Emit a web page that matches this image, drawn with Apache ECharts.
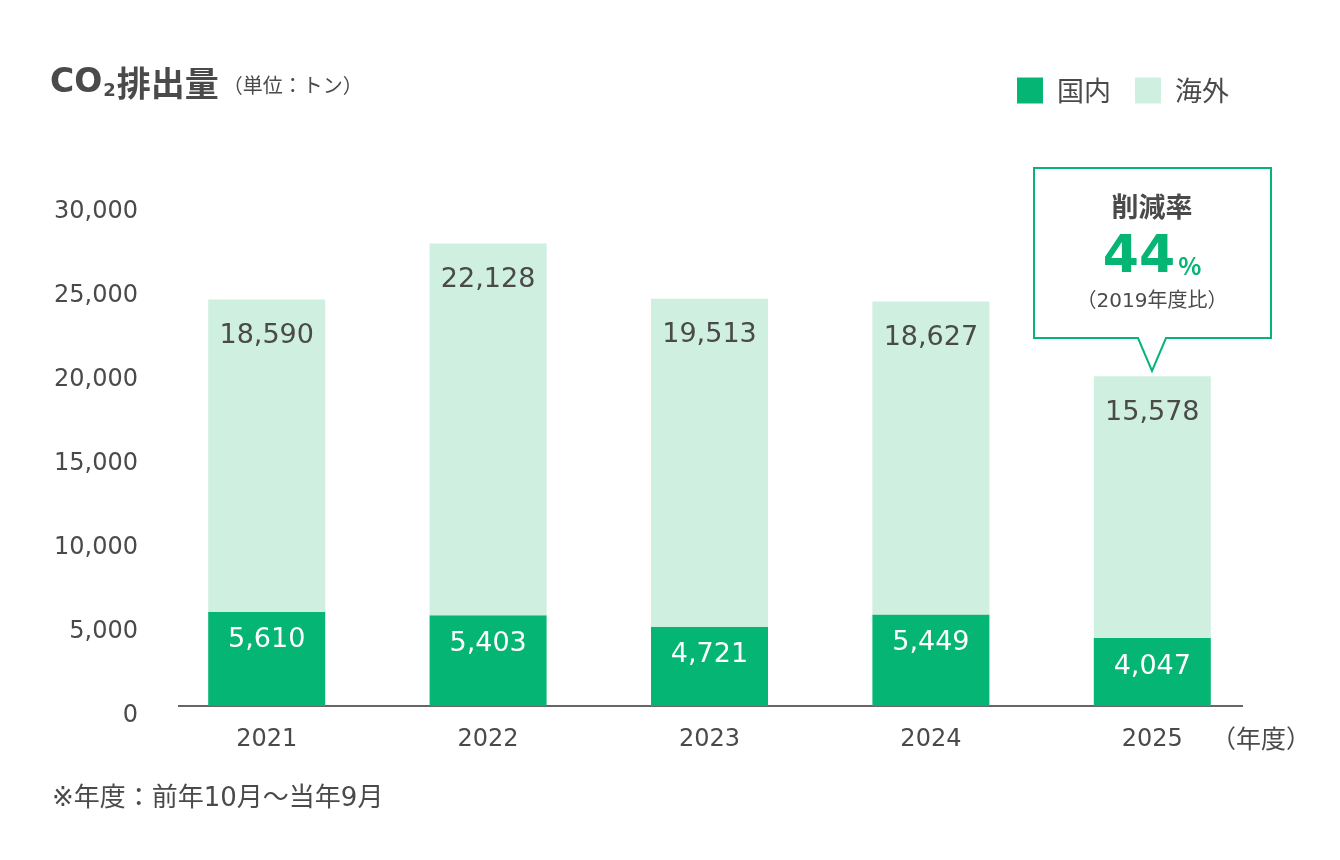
<!DOCTYPE html>
<html lang="ja">
<head>
<meta charset="UTF-8">
<title>CO2排出量</title>
<script src="https://cdn.jsdelivr.net/npm/echarts@6/dist/echarts.min.js"></script>
<style>
  html, body { margin: 0; padding: 0; background: #fff; }
  #chart { width: 1340px; height: 860px; }
</style>
</head>
<body>
<div id="chart"></div>
<script>
// data
const years = ['2021', '2022', '2023', '2024', '2025'];
const domestic = [5610, 5403, 4721, 5449, 4047];
const overseas = [18590, 22128, 19513, 18627, 15578];
const seriesNames = ['国内', '海外'];

// digits come from DejaVu (wide, like the original), kana/kanji fall back to Noto CJK
const FONT = '"DejaVu Sans", "Noto Sans CJK JP", sans-serif';
const FONT_JP = '"Noto Sans CJK JP", sans-serif';
const GREEN = '#04b573';
const LIGHT = '#cfefe1';
const TEXT = '#4a4a4a';

const chart = echarts.init(document.getElementById('chart'));

const fmt = p => p.value.toLocaleString('en-US');

chart.setOption({
  animation: false,
  textStyle: { fontFamily: FONT },
  grid: { left: 156, right: 77, top: 202, bottom: 154 },
  legend: {
    right: 106, top: 72,
    itemWidth: 26, itemHeight: 26, itemGap: 24,
    icon: 'rect',
    textStyle: { fontSize: 27, color: TEXT, fontFamily: FONT_JP, padding: [0, 0, 0, 9] },
    data: seriesNames
  },
  xAxis: {
    type: 'category',
    data: years,
    axisLine: { show: false },
    axisTick: { show: false },
    axisLabel: { fontSize: 24, color: TEXT, margin: 22, fontFamily: FONT }
  },
  yAxis: {
    type: 'value',
    min: 0, max: 30000, interval: 5000,
    splitLine: { show: false },
    axisLine: { show: false },
    axisTick: { show: false },
    axisLabel: {
      fontSize: 24, color: TEXT, margin: 18, fontFamily: FONT,
      verticalAlign: 'top', lineHeight: 20,
      formatter: v => v.toLocaleString('en-US')
    }
  },
  series: [
    {
      name: seriesNames[0], type: 'bar', stack: 'total', barWidth: 117,
      data: domestic,
      itemStyle: { color: GREEN },
      label: {
        show: true, position: 'insideTop', distance: 15,
        fontSize: 27, color: '#fff', fontFamily: FONT, formatter: fmt
      }
    },
    {
      name: seriesNames[1], type: 'bar', stack: 'total', barWidth: 117,
      data: overseas,
      itemStyle: { color: LIGHT },
      label: {
        show: true, position: 'insideTop', distance: 23,
        fontSize: 27, color: TEXT, fontFamily: FONT, formatter: fmt
      }
    }
  ],
  graphic: [
    // title
    {
      type: 'text', left: 50, top: 66,
      style: {
        text: '{b|CO}{s|2}{j|排出量}{u|（単位：トン）}',
        rich: {
          b: { fontSize: 33, fontWeight: 'bold', fill: TEXT, fontFamily: FONT, verticalAlign: 'bottom' },
          s: { fontSize: 18, fontWeight: 'bold', fill: TEXT, fontFamily: FONT, verticalAlign: 'bottom', padding: [0, 1, 0, 1] },
          j: { fontSize: 34, fontWeight: 'bold', fill: TEXT, fontFamily: FONT_JP, verticalAlign: 'bottom' },
          u: { fontSize: 20, fill: TEXT, fontFamily: FONT_JP, verticalAlign: 'bottom', padding: [0, 0, 5, 4] }
        }
      }
    },
    // baseline
    {
      type: 'line', shape: { x1: 178, y1: 706, x2: 1243, y2: 706 },
      style: { stroke: '#666', lineWidth: 2 }
    },
    // axis unit
    {
      type: 'text', x: 1211, y: 726,
      style: { text: '（年度）', fontSize: 25, fill: TEXT, fontFamily: FONT_JP }
    },
    // note
    {
      type: 'text', x: 52, y: 786,
      style: { text: '※年度：前年10月～当年9月', fontSize: 26, fill: TEXT, fontFamily: FONT }
    },
    // callout
    {
      type: 'polygon',
      shape: { points: [[1034, 168], [1271, 168], [1271, 338], [1166, 338], [1152, 371], [1138, 338], [1034, 338]] },
      style: { fill: '#fff', stroke: GREEN, lineWidth: 2 }
    },
    {
      type: 'text', x: 1152, y: 207,
      style: { text: '削減率', fontSize: 27, fontWeight: 'bold', fill: TEXT, fontFamily: FONT_JP, align: 'center', verticalAlign: 'middle' }
    },
    {
      type: 'text', x: 1152, y: 258,
      style: {
        text: '{n|44}{p|%}', align: 'center', verticalAlign: 'middle',
        rich: {
          n: { fontSize: 52, fontWeight: 'bold', fill: GREEN, fontFamily: FONT, verticalAlign: 'bottom' },
          p: { fontSize: 24, fontWeight: 'bold', fill: GREEN, fontFamily: FONT_JP, verticalAlign: 'bottom', padding: [0, 0, 6, 3] }
        }
      }
    },
    {
      type: 'text', x: 1152, y: 302,
      style: { text: '（2019年度比）', fontSize: 20, fill: TEXT, fontFamily: FONT, align: 'center', verticalAlign: 'middle' }
    }
  ]
});
</script>
</body>
</html>
